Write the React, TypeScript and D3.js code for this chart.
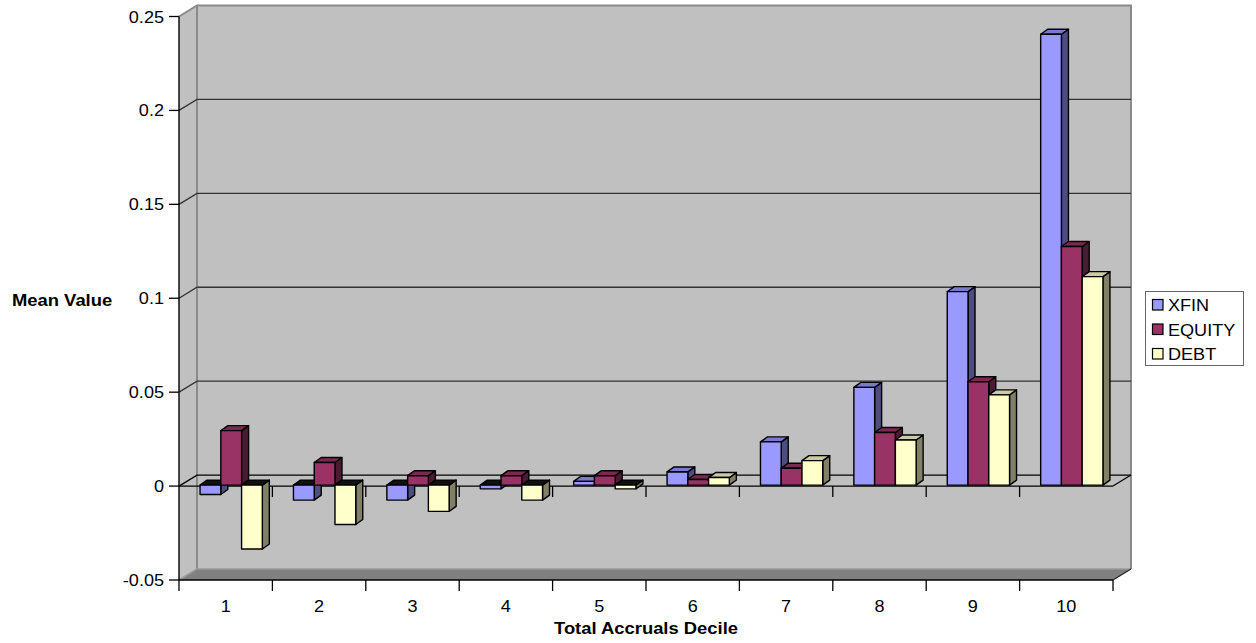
import React from "react";
import * as d3 from "d3";

// Mean values by total accruals decile
const categories = ["1", "2", "3", "4", "5", "6", "7", "8", "9", "10"];
const seriesNames = ["XFIN", "EQUITY", "DEBT"];
const xfin = [-0.005, -0.008, -0.008, -0.002, 0.002, 0.007, 0.023, 0.052, 0.103, 0.24];
const equity = [0.029, 0.012, 0.005, 0.005, 0.005, 0.003, 0.009, 0.028, 0.055, 0.127];
const debt = [-0.034, -0.021, -0.014, -0.008, -0.002, 0.004, 0.013, 0.024, 0.048, 0.111];
const yTicks = [-0.05, 0, 0.05, 0.1, 0.15, 0.2, 0.25];
const yTickLabels = ["-0.05", "0", "0.05", "0.1", "0.15", "0.2", "0.25"];

const seriesValues = [xfin, equity, debt];
const faceColors = [
  { front: "#9999FF", top: "#7a7acc", side: "#4d4d80" },
  { front: "#993366", top: "#7a2952", side: "#4d1a33" },
  { front: "#FFFFCC", top: "#cccca3", side: "#808066" },
];

const FONT = "'Liberation Sans', Arial, Helvetica, sans-serif";
const W = 1256;
const H = 643;

// plot geometry: front plane and depth offset to back wall
const X0 = 179;
const X1 = 1113;
const DX = 18;
const DY = -11;
// bar placement inside the depth
const BAR_DX = 5.5;
const BAR_DY = -1;
const BAR_DEPTH_X = 7;
const BAR_DEPTH_Y = -5;

function SText(props: {
  x: number;
  y: number;
  anchor?: string;
  sx?: number;
  bold?: boolean;
  size?: number;
  children: React.ReactNode;
}) {
  const { x, y, anchor = "start", sx = 1.13, bold = false, size = 16 } = props;
  return (
    <text
      transform={`translate(${x},${y}) scale(${sx},1)`}
      textAnchor={anchor}
      fontFamily={FONT}
      fontSize={size}
      fontWeight={bold ? "bold" : "normal"}
      fill="#000"
    >
      {props.children}
    </text>
  );
}

export default function App() {
  const y = d3.scaleLinear().domain([-0.05, 0.25]).range([580, 16.5]);
  const x = d3.scaleBand<string>().domain(categories).range([X0, X1]).paddingInner(0).paddingOuter(0);
  const xs = d3
    .scaleBand<string>()
    .domain(seriesNames)
    .range([0, x.bandwidth()])
    .paddingInner(0)
    .paddingOuter(0.75);

  const yBot = y(-0.05);
  const yTop = y(0.25);
  const y0 = y(0);

  const pts = (arr: [number, number][]) => arr.map((p) => p.join(",")).join(" ");

  // bars
  const bars: React.ReactNode[] = [];
  categories.forEach((c, ci) => {
    seriesNames.forEach((s, si) => {
      const v = seriesValues[si][ci];
      const col = faceColors[si];
      const left = (x(c) as number) + (xs(s) as number) + BAR_DX;
      const right = left + xs.bandwidth();
      const base = y0 + BAR_DY;
      const end = y(v) + BAR_DY;
      const top = Math.min(base, end);
      const bot = Math.max(base, end);
      const dx = BAR_DEPTH_X;
      const dy = BAR_DEPTH_Y;
      const topFill = v >= 0 ? col.top : "#111";
      bars.push(
        <g key={`${c}-${s}`} stroke="#000" strokeWidth={1.4} strokeLinejoin="round">
          <polygon
            points={pts([
              [right, top],
              [right + dx, top + dy],
              [right + dx, bot + dy],
              [right, bot],
            ])}
            fill={col.side}
          />
          <polygon
            points={pts([
              [left, top],
              [left + dx, top + dy],
              [right + dx, top + dy],
              [right, top],
            ])}
            fill={topFill}
          />
          <rect x={left} y={top} width={right - left} height={Math.max(bot - top, 0.5)} fill={col.front} />
        </g>
      );
    });
  });

  const catEdges = d3.range(categories.length + 1).map((i) => X0 + i * x.step());

  return (
    <svg
      width={W}
      height={H}
      style={{ position: "absolute", left: 0, top: 0, background: "#fff" }}
    >
      {/* side wall */}
      <polygon
        points={pts([
          [X0, yTop],
          [X0 + DX, yTop + DY],
          [X0 + DX, yBot + DY],
          [X0, yBot],
        ])}
        fill="#c0c0c0"
      />
      {/* back wall */}
      <rect x={X0 + DX} y={yTop + DY} width={X1 - X0} height={yBot - yTop} fill="#c0c0c0" />
      {/* floor */}
      <polygon
        points={pts([
          [X0, yBot],
          [X0 + DX, yBot + DY],
          [X1 + DX, yBot + DY],
          [X1, yBot],
        ])}
        fill="#808080"
      />
      {/* wall outlines */}
      <polyline
        points={pts([
          [X0, yTop],
          [X0 + DX, yTop + DY],
          [X1 + DX, yTop + DY],
          [X1 + DX, yBot + DY],
        ])}
        fill="none"
        stroke="#8a8a8a"
        strokeWidth={2}
      />
      <line x1={X0 + DX} y1={yTop + DY} x2={X0 + DX} y2={yBot + DY} stroke="#8a8a8a" strokeWidth={2} />
      <line x1={X0 + DX} y1={yBot + DY} x2={X1 + DX} y2={yBot + DY} stroke="#9a9a9a" strokeWidth={1.5} />
      <line x1={X0} y1={yBot} x2={X0 + DX} y2={yBot + DY} stroke="#9a9a9a" strokeWidth={1.5} />
      <line x1={X1} y1={yBot} x2={X1 + DX} y2={yBot + DY} stroke="#222" strokeWidth={1.2} />

      {/* gridlines */}
      {yTicks
        .filter((t) => t > -0.05 && t < 0.25)
        .map((t) => (
          <g key={`g${t}`} stroke={t === 0 ? "#000" : "#333"} strokeWidth={1.3} fill="none">
            <polyline
              points={pts([
                [X0, y(t)],
                [X0 + DX, y(t) + DY],
                [X1 + DX, y(t) + DY],
              ])}
            />
          </g>
        ))}
      {/* zero category axis on front plane */}
      <line x1={X0} y1={y0} x2={X1} y2={y0} stroke="#000" strokeWidth={1.3} />
      <line x1={X1} y1={y0} x2={X1 + DX} y2={y0 + DY} stroke="#000" strokeWidth={1.2} />
      {catEdges.slice(1, -1).map((ex, i) => (
        <line key={`zt${i}`} x1={ex} y1={y0} x2={ex} y2={y0 + 11} stroke="#000" strokeWidth={1.3} />
      ))}

      {bars}

      {/* value axis */}
      <line x1={X0} y1={yTop} x2={X0} y2={yBot} stroke="#000" strokeWidth={1.4} />
      {yTicks.map((t, i) => (
        <g key={`yt${t}`}>
          <line x1={X0 - 10} y1={y(t)} x2={X0} y2={y(t)} stroke="#000" strokeWidth={1.3} />
          <SText x={X0 - 15} y={y(t) + 6} anchor="end">
            {yTickLabels[i]}
          </SText>
        </g>
      ))}

      {/* bottom category axis */}
      <line x1={X0} y1={yBot} x2={X1} y2={yBot} stroke="#000" strokeWidth={1.4} />
      {catEdges.map((ex, i) => (
        <line key={`bt${i}`} x1={ex} y1={yBot} x2={ex} y2={yBot + 11} stroke="#000" strokeWidth={1.3} />
      ))}
      {categories.map((c) => (
        <SText key={`xl${c}`} x={(x(c) as number) + x.bandwidth() / 2} y={612} anchor="middle">
          {c}
        </SText>
      ))}

      {/* axis titles */}
      <SText x={646} y={634} anchor="middle" bold sx={1.15}>
        Total Accruals Decile
      </SText>
      <SText x={12} y={306} bold sx={1.15}>
        Mean Value
      </SText>

      {/* legend */}
      <rect x={1145.5} y={291.5} width={98} height={74} fill="#fff" stroke="#666" strokeWidth={1} />
      {seriesNames.map((s, i) => (
        <g key={`lg${s}`}>
          <rect
            x={1152.5}
            y={299.5 + i * 24.5}
            width={10.5}
            height={10.5}
            fill={faceColors[i].front}
            stroke="#000"
            strokeWidth={1.2}
          />
          <SText x={1168} y={311 + i * 24.5}>
            {s}
          </SText>
        </g>
      ))}
    </svg>
  );
}
